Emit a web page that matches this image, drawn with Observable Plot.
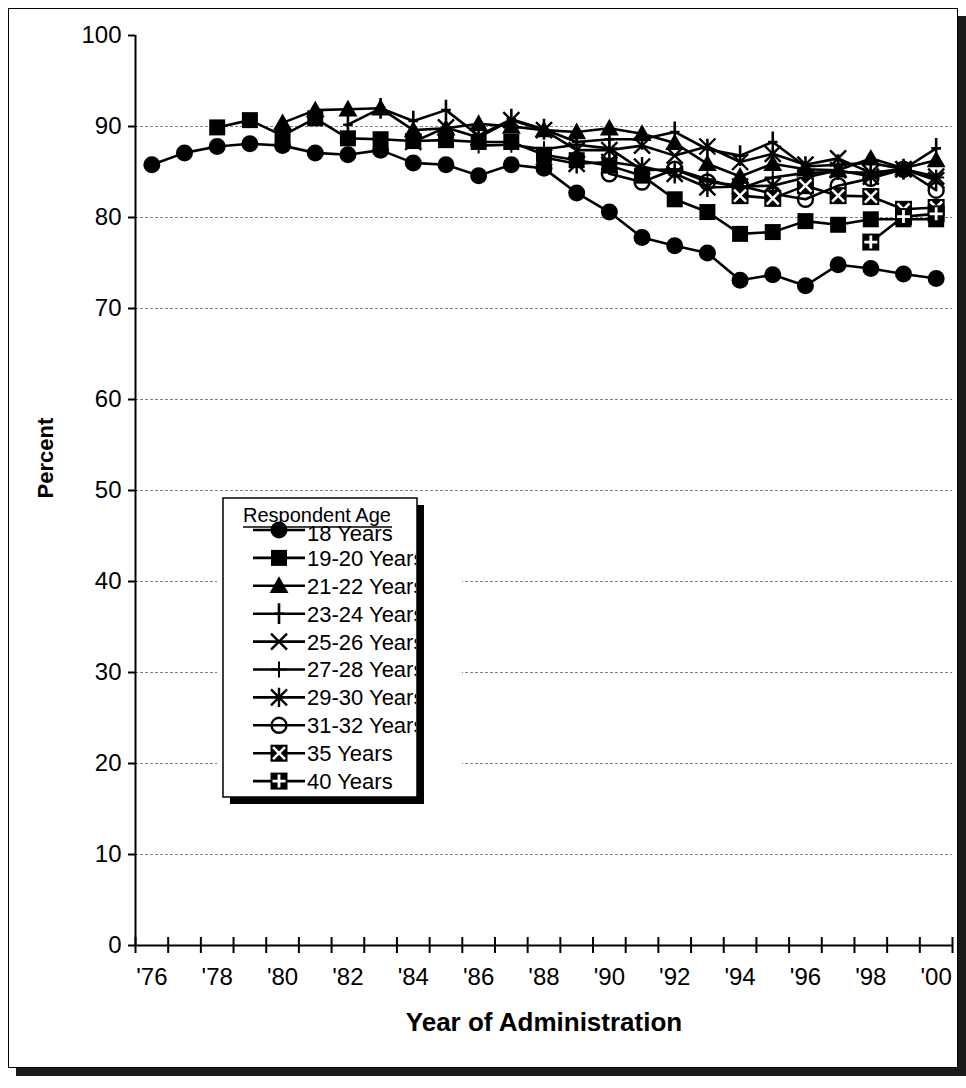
<!DOCTYPE html>
<html>
<head>
<meta charset="utf-8">
<script src="https://cdn.jsdelivr.net/npm/d3@7"></script>
<script src="https://cdn.jsdelivr.net/npm/@observablehq/plot@0.6"></script>
<style>
  html, body { margin: 0; padding: 0; background: #fff; overflow: hidden; }
  #wrap { position: relative; width: 966px; height: 1088px; }
  #frame { position: absolute; left: 8px; top: 8px; width: 948px; height: 1058px;
           border: 1.5px solid #000; background: #fff; box-shadow: 8px 8px 0 #1a1a1a; }
  #chart { position: absolute; left: 0; top: 0; }
</style>
</head>
<body>
<div id="wrap"><div id="frame"></div><div id="chart"></div></div>
<script>
// Survey years and axis labels
const years = [1976, 1977, 1978, 1979, 1980, 1981, 1982, 1983, 1984, 1985, 1986, 1987, 1988,
               1989, 1990, 1991, 1992, 1993, 1994, 1995, 1996, 1997, 1998, 1999, 2000];
const labelYears = [1976, 1978, 1980, 1982, 1984, 1986, 1988, 1990, 1992, 1994, 1996, 1998, 2000];
const yTicks = [0, 10, 20, 30, 40, 50, 60, 70, 80, 90, 100];
const gridValues = [10, 20, 30, 40, 50, 60, 70, 80, 90];

// Percent by respondent age (null = age group not yet surveyed)
const age18    = [85.8, 87.1, 87.8, 88.1, 87.9, 87.1, 86.9, 87.4, 86.0, 85.8, 84.6, 85.8, 85.4,
                  82.7, 80.6, 77.8, 76.9, 76.1, 73.1, 73.7, 72.5, 74.8, 74.4, 73.8, 73.3];
const age19_20 = [null, null, 89.9, 90.7, 89.0, 90.9, 88.7, 88.6, 88.4, 88.5, 88.3, 88.3, 86.9,
                  86.3, 85.7, 84.6, 82.0, 80.6, 78.2, 78.4, 79.6, 79.2, 79.8, 79.8, 79.8];
const age21_22 = [null, null, null, null, 90.4, 91.8, 91.9, 92.0, 89.6, 89.8, 90.3, 90.0, 89.6,
                  89.4, 89.8, 89.2, 88.2, 85.9, 84.5, 85.9, 85.3, 85.2, 86.5, 85.4, 86.3];
const age23_24 = [null, null, null, null, null, null, 90.2, 92.0, 90.6, 91.8, 89.0, 90.8, 89.7,
                  88.3, 88.6, 88.6, 89.4, 87.5, 86.8, 88.3, 85.6, 85.8, 86.0, 85.3, 87.6];
const age25_26 = [null, null, null, null, null, null, null, null, 88.3, 89.9, 88.8, 90.7, 89.6,
                  87.4, 87.4, 87.9, 86.8, 87.8, 86.1, 87.0, 85.8, 86.5, 84.9, 85.3, 84.5];
const age27_28 = [null, null, null, null, null, null, null, null, null, null, 87.9, 88.0, 87.5,
                  88.0, 87.6, 85.2, 85.3, 84.2, 83.2, 84.4, 84.9, 85.0, 84.9, 85.3, 84.4];
const age29_30 = [null, null, null, null, null, null, null, null, null, null, null, null, 86.6,
                  85.9, 86.1, 85.6, 84.8, 83.3, 83.4, 83.5, 84.4, 85.2, 84.5, 85.3, 84.1];
const age31_32 = [null, null, null, null, null, null, null, null, null, null, null, null, null,
                  null, 84.8, 83.9, 85.3, 83.9, 83.5, 82.6, 82.0, 83.5, 84.3, 85.3, 83.0];
const age35    = [null, null, null, null, null, null, null, null, null, null, null, null, null,
                  null, null, null, null, null, 82.4, 82.1, 83.5, 82.4, 82.3, 80.9, 81.1];
const age40    = [null, null, null, null, null, null, null, null, null, null, null, null, null,
                  null, null, null, null, null, null, null, null, null, 77.3, 80.1, 80.4];

const seriesNames = ["18 Years", "19-20 Years", "21-22 Years", "23-24 Years", "25-26 Years",
                     "27-28 Years", "29-30 Years", "31-32 Years", "35 Years", "40 Years"];
const seriesValues = [age18, age19_20, age21_22, age23_24, age25_26,
                      age27_28, age29_30, age31_32, age35, age40];

// Long-format table for the line and dot marks
const rows = seriesNames.flatMap((series, k) =>
  years.map((year, i) => ({series, year, value: seriesValues[k][i]})).filter(d => d.value != null));

// Marker shapes (size -> radius as Plot/d3 do: size = PI r^2)
const rad = s => Math.sqrt(s / Math.PI);
const symCircle = {draw(c, s) { const r = rad(s); c.moveTo(r, 0); c.arc(0, 0, r, 0, 2 * Math.PI); }};
const symSquare = {draw(c, s) { const r = rad(s); c.rect(-r, -r, 2 * r, 2 * r); }};
const symTriangle = {draw(c, s) { const r = rad(s);
  c.moveTo(0, -r * 1.05); c.lineTo(r * 1.05, r * 0.8); c.lineTo(-r * 1.05, r * 0.8); c.closePath(); }};
const symTallPlus = {draw(c, s) { const r = rad(s);
  c.moveTo(0, -r * 1.3); c.lineTo(0, r * 1.3); c.moveTo(-r * 0.6, 0); c.lineTo(r * 0.6, 0); }};
const symTimes = {draw(c, s) { const r = rad(s);
  c.moveTo(-r, -r); c.lineTo(r, r); c.moveTo(r, -r); c.lineTo(-r, r); }};
const symPlus = {draw(c, s) { const r = rad(s);
  c.moveTo(0, -r); c.lineTo(0, r); c.moveTo(-r, 0); c.lineTo(r, 0); }};
const symAsterisk = {draw(c, s) { const r = rad(s);
  c.moveTo(-r, -r); c.lineTo(r, r); c.moveTo(r, -r); c.lineTo(-r, r);
  c.moveTo(0, -r * 1.2); c.lineTo(0, r * 1.2); }};

// Marker layers for each series
const markerStyles = {
  "18 Years":    [{symbol: symCircle, r: 8.5, fill: "black", stroke: "none"}],
  "19-20 Years": [{symbol: symSquare, r: 8, fill: "black", stroke: "none"}],
  "21-22 Years": [{symbol: symTriangle, r: 9, fill: "black", stroke: "none"}],
  "23-24 Years": [{symbol: symTallPlus, r: 8, fill: "none", stroke: "black", strokeWidth: 2.6}],
  "25-26 Years": [{symbol: symTimes, r: 8, fill: "none", stroke: "black", strokeWidth: 2.4}],
  "27-28 Years": [{symbol: symPlus, r: 8, fill: "none", stroke: "black", strokeWidth: 2}],
  "29-30 Years": [{symbol: symAsterisk, r: 8, fill: "none", stroke: "black", strokeWidth: 2.4}],
  "31-32 Years": [{symbol: symCircle, r: 7.5, fill: "none", stroke: "black", strokeWidth: 2.4}],
  "35 Years":    [{symbol: symSquare, r: 8.5, fill: "black", stroke: "none"},
                  {symbol: symTimes, r: 6, fill: "none", stroke: "white", strokeWidth: 2.6}],
  "40 Years":    [{symbol: symSquare, r: 8.5, fill: "black", stroke: "none"},
                  {symbol: symPlus, r: 6.5, fill: "none", stroke: "white", strokeWidth: 2.8}]
};

const categoryBounds = d3.range(years.length + 1).map(i => years[0] - 0.5 + i);
const font = "'Liberation Sans', Arial, Helvetica, sans-serif";

const chart = Plot.plot({
  width: 966,
  height: 1088,
  marginLeft: 135,
  marginRight: 14,
  marginTop: 35,
  marginBottom: 143,
  style: {background: "transparent", fontFamily: font, fontSize: "24px", color: "black", overflow: "visible"},
  x: {type: "linear", domain: [years[0] - 0.5, years[years.length - 1] + 0.5]},
  y: {domain: [0, 100]},
  marks: [
    Plot.ruleY(gridValues, {stroke: "#808080", strokeWidth: 1, strokeDasharray: "3,2"}),
    Plot.line(rows, {x: "year", y: "value", z: "series", stroke: "black", strokeWidth: 2.6}),
    ...seriesNames.flatMap(name => markerStyles[name].map(m =>
      Plot.dot(rows, {filter: d => d.series === name, x: "year", y: "value", ...m}))),
    Plot.ruleX([years[0] - 0.5], {stroke: "black", strokeWidth: 2}),
    Plot.ruleY([0], {stroke: "black", strokeWidth: 2}),
    Plot.ruleX(categoryBounds, {y1: 0, y2: 0, insetTop: -8, insetBottom: -8, stroke: "black", strokeWidth: 2}),
    Plot.axisY({ticks: yTicks, tickSize: 7, tickPadding: 7, strokeWidth: 2, label: null, fontSize: 24}),
    Plot.axisX({ticks: labelYears, tickSize: 0, tickPadding: 22, label: null, fontSize: 24,
                tickFormat: d => "'" + String(d).slice(2)}),
    Plot.text(["Year of Administration"], {frameAnchor: "bottom", dy: 85, text: d => d,
               fontSize: 26, fontWeight: "bold"}),
    Plot.text(["Percent"], {frameAnchor: "left", dx: -90, dy: 8, rotate: -90, text: d => d,
               fontSize: 22, fontWeight: "bold"})
  ]
});
document.getElementById("chart").appendChild(chart);

// Legend box drawn into the same SVG
const svg = d3.select(chart);
const lg = svg.append("g").attr("font-family", font).attr("text-anchor", "start");
lg.append("rect").attr("x", 217).attr("y", 494).attr("width", 245).attr("height", 310).attr("fill", "white");
lg.append("rect").attr("x", 230).attr("y", 505).attr("width", 194).attr("height", 299).attr("fill", "black");
lg.append("rect").attr("x", 223).attr("y", 498).attr("width", 194).attr("height", 299)
  .attr("fill", "white").attr("stroke", "black").attr("stroke-width", 1.5);
lg.append("clipPath").attr("id", "legend-clip")
  .append("rect").attr("x", 224).attr("y", 498).attr("width", 192).attr("height", 299);
const inner = lg.append("g").attr("clip-path", "url(#legend-clip)");
inner.append("text").attr("x", 243).attr("y", 522).attr("font-size", 20).text("Respondent Age");
inner.append("line").attr("x1", 243).attr("x2", 392).attr("y1", 527).attr("y2", 527)
  .attr("stroke", "black").attr("stroke-width", 1.5);

const entry = inner.selectAll("g.entry").data(seriesNames).join("g")
  .attr("class", "entry")
  .attr("transform", (d, i) => `translate(0,${530 + 27.9 * i})`);
entry.append("line").attr("x1", 253).attr("x2", 305).attr("stroke", "black").attr("stroke-width", 2.6);
entry.each(function(name) {
  const g = d3.select(this);
  for (const m of markerStyles[name]) {
    g.append("path")
      .attr("transform", "translate(279,0)")
      .attr("d", d3.symbol(m.symbol, m.r * m.r * Math.PI)())
      .attr("fill", m.fill)
      .attr("stroke", m.stroke)
      .attr("stroke-width", m.strokeWidth || null);
  }
});
entry.append("text").attr("x", 307).attr("dy", (d, i) => i === 0 ? "0.52em" : "0.36em")
  .attr("font-size", 22).text(d => d);
</script>
</body>
</html>
